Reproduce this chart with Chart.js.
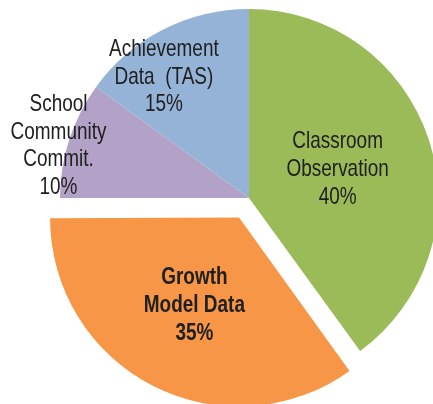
<!DOCTYPE html>
<html>
<head>
  <style>
    html, body {
      margin: 0;
      padding: 0;
      background: #ffffff;
    }

    .chart-container {
      position: relative;
      width: 433px;
      height: 404px;
    }
  </style>
  <script src="https://cdn.jsdelivr.net/npm/chart.js"></script>
</head>
<body>
  <div class="chart-container">
    <canvas id="weightChart"></canvas>
  </div>

  <script>
    // slices, clockwise from 12 o'clock
    const categories = ['Classroom Observation', 'Growth Model Data', 'School Community Commit.', 'Achievement Data (TAS)'];
    const labelLines = [['Classroom', 'Observation'], ['Growth', 'Model Data'], ['School', 'Community', 'Commit.'], ['Achievement', 'Data  (TAS)']];
    const weights = [40, 35, 10, 15];

    const sliceColors = ['#9bbb59', '#f79646', '#b3a2c7', '#95b3d7'];
    const sliceOffsets = [0, 88, 0, 0];      // chart.js draws offset / 4
    const labelRadius = [0.493, 0.52, 1.045, 0.783]; // fraction of pie radius
    const labelAngle = [0.5, 0.5, 0.425, 0.35];    // position inside the slice
    const labelBold = [false, true, false, false];
    const PIE_RADIUS = 189;

    // keep the exploded slice at the same radius as the others
    const explodeFix = {
      id: 'explodeFix',
      afterDatasetsUpdate(chart) {
        chart.getDatasetMeta(0).data.forEach((arc, i) => {
          const off = (sliceOffsets[i] || 0) / 4;
          if (!off) return;
          const circ = arc.endAngle - arc.startAngle;
          arc.outerRadius = PIE_RADIUS - off * (1 - Math.sin(Math.min(Math.PI, circ)));
        });
      }
    };

    const sliceLabels = {
      id: 'sliceLabels',
      afterDatasetsDraw(chart) {
        const ctx = chart.ctx;
        const meta = chart.getDatasetMeta(0);
        meta.data.forEach((arc, i) => {
          const mid = (arc.startAngle + arc.endAngle) / 2;
          const off = (sliceOffsets[i] || 0) / 4;
          const cx = arc.x + Math.cos(mid) * off;
          const cy = arc.y + Math.sin(mid) * off;
          const a = arc.startAngle + (arc.endAngle - arc.startAngle) * labelAngle[i];
          const r = PIE_RADIUS * labelRadius[i];
          const px = cx + Math.cos(a) * r;
          const py = cy + Math.sin(a) * r;

          const lines = labelLines[i].concat([weights[i] + '%']);
          const lineH = 27.8;
          const top = py - (lines.length - 1) * lineH / 2;

          ctx.save();
          ctx.fillStyle = '#202020';
          ctx.textAlign = 'center';
          ctx.textBaseline = 'middle';
          ctx.font = (labelBold[i] ? 'bold ' : '') + '24px "Liberation Sans", Arial, sans-serif';
          lines.forEach((line, k) => {
            ctx.save();
            ctx.translate(px, top + k * lineH);
            ctx.scale(0.79, 1); // narrow face
            ctx.fillText(line, 0, 0);
            ctx.restore();
          });
          ctx.restore();
        });
      }
    };

    document.addEventListener('DOMContentLoaded', function() {
      const ctx = document.getElementById('weightChart').getContext('2d');

      new Chart(ctx, {
        type: 'pie',
        data: {
          labels: categories,
          datasets: [{
            data: weights,
            backgroundColor: sliceColors,
            borderWidth: 0,
            offset: sliceOffsets,
            hoverOffset: 0
          }]
        },
        options: {
          responsive: true,
          maintainAspectRatio: false,
          animation: false,
          events: [],
          radius: PIE_RADIUS,
          layout: {
            padding: { left: 65, right: 0, top: 0, bottom: 8 }
          },
          plugins: {
            legend: { display: false },
            tooltip: { enabled: false }
          }
        },
        plugins: [explodeFix, sliceLabels]
      });
    });
  </script>
</body>
</html>
